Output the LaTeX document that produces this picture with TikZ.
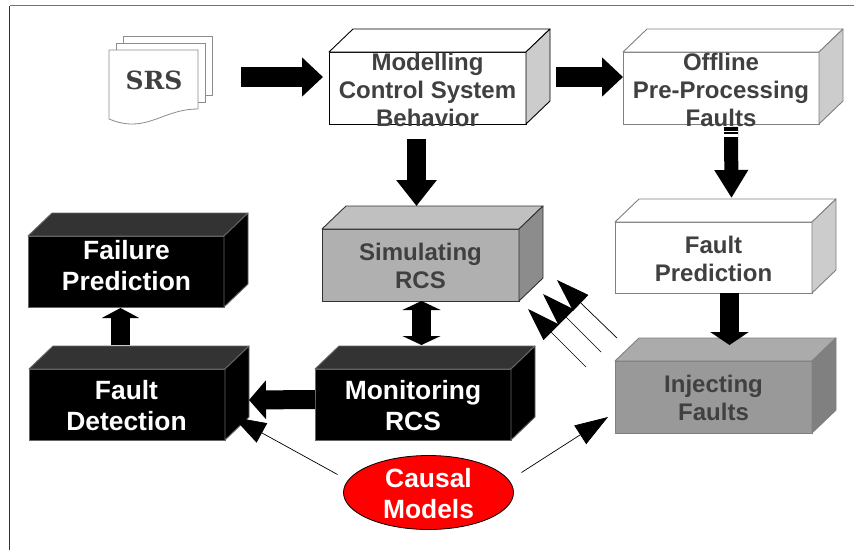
\documentclass[tikz,border=0pt]{standalone}
\usepackage{fontspec}
\setmainfont{Liberation Sans}
\newfontfamily\slabfont{DejaVu Serif}
\usetikzlibrary{arrows.meta,shapes.geometric}
\definecolor{txt}{HTML}{404040}
\definecolor{simfront}{HTML}{B0B0B0}
\definecolor{simtop}{HTML}{C0C0C0}
\definecolor{simside}{HTML}{8C8C8C}
\tikzset{
  blockarrow/.style={line width=#1, draw=black},
  headed/.style={-{Triangle[length=21pt,width=38pt]}},
  thinarrow/.style={line width=0.7pt, black, -{Triangle[length=33pt,width=22pt]}},
  sheet/.style={draw=black!45, fill=white, line width=0.8pt},
  lbl/.style={font=\bfseries\fontsize{24}{28}\selectfont, align=center, inner sep=0pt, text=txt},
  lblw/.style={font=\bfseries\fontsize{26.4}{31}\selectfont, align=center, inner sep=0pt, text=white},
  frame/.style={line width=1pt}
}
% name, x, y, w, h, front, top, side, edge
\newcommand{\cubebox}[9]{%
  \node[anchor=north west, minimum width=#4pt, minimum height=#5pt, inner sep=0pt, outer sep=0pt, draw=#9, fill=#6, line width=0.9pt] (#1) at (#2,#3) {};
  \draw[draw=#9, fill=#7, line width=0.9pt, line join=round] (#1.north west) -- ++(24,-23) -- ++(#4,0) -- (#1.north east) -- cycle;
  \draw[draw=#9, fill=#8, line width=0.9pt, line join=round] (#1.north east) -- ++(24,-23) -- ++(0,#5) -- (#1.south east) -- cycle;
}
\begin{document}
\begin{tikzpicture}[x=1pt,y=-1pt]
\useasboundingbox (0,0) rectangle (854,550);
\fill[white] (0,0) rectangle (854,550);
\coordinate (fa) at (9.5,550);
\coordinate (fb) at (9.5,5.5);
\coordinate (fc) at (854,5.5);
\draw[frame, black!80] (fa) -- (fb);
\draw[line width=1.6pt, black!55] (fb) -- (fc);

% SRS document stack
\draw[sheet] (123,36) rectangle (212,95);
\draw[sheet] (116,43) rectangle (205,102);
\draw[sheet] (109,50) -- (198,50) -- (198,109) .. controls (170,109) and (155,124) .. (132,124) .. controls (124,124) and (116,122) .. (109,119) -- cycle;
\node[font=\slabfont\bfseries\fontsize{25}{28}\selectfont, text=txt, inner sep=0pt] (srs) at (154,80) {SRS};

\cubebox{model}{329}{52}{197}{72}{white}{white}{black!20}{black}
\cubebox{offline}{623}{52}{196}{72}{white}{white}{black!20}{black!50}
\cubebox{fp}{615}{222}{197}{71}{white}{white}{black!20}{black!50}
\cubebox{inj}{615}{361}{197}{72}{black!40}{black!33}{black!50}{black!50}
\cubebox{sim}{322}{229}{197}{72}{simfront}{simtop}{simside}{black!80}
\cubebox{fail}{28}{236}{196}{71}{black}{black!80}{black}{black!60}
\cubebox{fd}{29}{369}{196}{71}{black}{black!80}{black}{black!60}
\cubebox{mon}{315}{369}{196}{71}{black}{black!80}{black}{black!60}

\node[lbl] (modelT) at (427.5,90) {Modelling\\Control System\\Behavior};
\node[lbl] (offlineT) at (721,90) {Offline\\Pre-Processing\\Faults};
\node[lbl] (fpT) at (713.5,259) {Fault\\Prediction};
\node[lbl] (injT) at (713.5,398) {Injecting\\Faults};
\node[lbl] (simT) at (420.5,266) {Simulating\\RCS};
\node[lblw] (failT) at (126.5,266) {Failure\\Prediction};
\node[lblw] (fdT) at (126.5,406) {Fault\\Detection};
\node[lblw] (monT) at (413,406) {Monitoring\\RCS};

\node[ellipse, draw=black, fill=red, line width=0.8pt, minimum width=170pt, minimum height=74pt, inner sep=0pt, outer sep=0pt] (cm) at (428.5,492.5) {};
\node[lblw] (cmT) at (428.5,494) {Causal\\Models};

% block arrows
\draw[blockarrow=20pt, headed] ([shift={(87,-3)}]srs.center) -- ([shift={(-6,-11)}]model.west);
\draw[blockarrow=20pt, headed] ([shift={(30,-11)}]model.east) -- ([shift={(0,-11)}]offline.west);
\draw[blockarrow=19pt, -{Triangle[length=26pt,width=39pt]}] ([shift={(-11,15)}]model.south) -- ([shift={(-4,-23)}]sim.north);
\draw[blockarrow=14pt, -{Triangle[length=28pt,width=32pt]}] ([shift={(10,3)}]offline.south) -- ([shift={(18,-24)}]fp.north);
\draw[white, line width=1.4pt] ([shift={(3,7.5)}]offline.south) -- ([shift={(17,7.5)}]offline.south);
\draw[white, line width=3pt] ([shift={(3,11.5)}]offline.south) -- ([shift={(17,11.5)}]offline.south);
\draw[blockarrow=19pt, -{Triangle[length=13pt,width=38pt]}] ([shift={(16,0)}]fp.south) -- ([shift={(16,-16)}]inj.north);
\draw[blockarrow=19pt, {Triangle[length=9pt,width=38pt]}-{Triangle[length=9pt,width=38pt]}] ([shift={(1,0)}]sim.south) -- ([shift={(8.5,-24)}]mon.north);
\draw[blockarrow=19pt, -{Triangle[length=10pt,width=37pt]}] ([shift={(-6.5,-24)}]fd.north) -- ([shift={(-5.5,1)}]fail.south);
\draw[blockarrow=19pt, -{Triangle[length=17pt,width=38pt]}] ([shift={(0,-5)}]mon.west) -- ([shift={(24,-4.5)}]fd.east);

% thin arrows
\draw[thinarrow] ([shift={(-91,-18)}]cm.center) -- ([shift={(8,-23)}]fd.south east);
\draw[thinarrow] ([shift={(93,-20)}]cm.center) -- ([shift={(-7,-16)}]inj.south west);
\draw[thinarrow] ([shift={(2,-23)}]inj.north west) -- ([shift={(38,-21)}]sim.south east);
\draw[thinarrow] ([shift={(-14,-9)}]inj.north west) -- ([shift={(24,-7)}]sim.south east);
\draw[thinarrow] ([shift={(-29,6)}]inj.north west) -- ([shift={(9,8)}]sim.south east);
\end{tikzpicture}
\end{document}
